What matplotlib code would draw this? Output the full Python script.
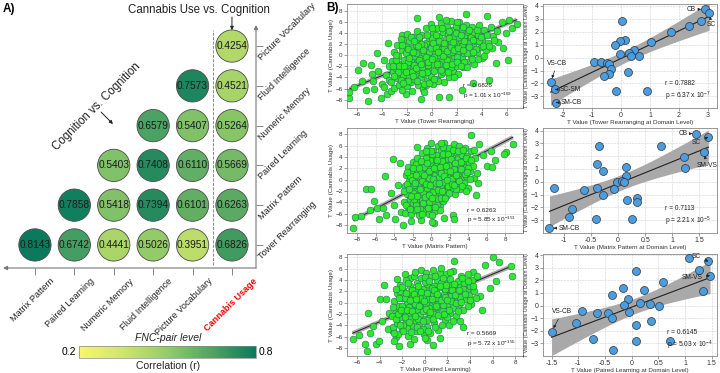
import numpy as np
import matplotlib
matplotlib.use('Agg')
import matplotlib.pyplot as plt
from matplotlib.colors import LinearSegmentedColormap, Normalize
import matplotlib.colorbar as mcolorbar

plt.rcParams['font.family'] = ['Liberation Sans', 'DejaVu Sans']
plt.rcParams['mathtext.fontset'] = 'custom'
plt.rcParams['mathtext.rm'] = 'Liberation Sans'
plt.rcParams['mathtext.it'] = 'Liberation Sans:italic'

# ---------------- Panel A data ----------------
col_labels = ['Matrix Pattern', 'Paired Learning', 'Numeric Memory',
              'Fluid Intelligence', 'Picture Vocabulary', 'Cannabis Usage']
row_labels = ['Tower Rearranging', 'Matrix Pattern', 'Paired Learning',
              'Numeric Memory', 'Fluid Intelligence', 'Picture Vocabulary']  # bottom -> top
nan = np.nan
corr_tower   = [0.8143, 0.6742, 0.4441, 0.5026, 0.3951, 0.6826]
corr_matrix  = [nan, 0.7858, 0.5418, 0.7394, 0.6101, 0.6263]
corr_paired  = [nan, nan, 0.5403, 0.7408, 0.6110, 0.5669]
corr_numeric = [nan, nan, nan, 0.6579, 0.5407, 0.5264]
corr_fluid   = [nan, nan, nan, nan, 0.7573, 0.4521]
corr_picture = [nan, nan, nan, nan, nan, 0.4254]
corr_rows = [corr_tower, corr_matrix, corr_paired, corr_numeric, corr_fluid, corr_picture]
cbar_range = [0.2, 0.8]

# ---------------- Panel B data (FNC-pair level) ----------------
tower_pts = """
-6.6,-7.7 -6.6,-6.6 -6.2,-5.8 -5.9,-2.6 -5.5,-1.4 -5.6,-4.7 -5.3,-6.2 -5.1,-8.3 -4.9,-1.7 -4.8,-3.4
-4.7,-4.7 -4.6,-6.1 -4.4,0.4 -4.3,-2.8 -4.1,-7.7 -4.0,-5.2 -3.8,-5.7 -3.8,-0.9 -3.7,-3.6 -3.6,-7.0
-3.5,2.1 -3.4,-4.4 -3.4,-1.9 -3.3,-6.5 -2.4,3.7 -2.3,2.8 -1.2,6.6 -0.9,-7.8 0.6,-7.6 1.4,-7.6
2.4,-6.3 5.6,5.9 5.9,4.0 6.2,6.3 6.4,4.8 6.8,5.6 5.7,1.2 6.1,-0.8 4.6,-4.4 3.3,-5.0
-2.1,-7.0 4.4,7.0 2.7,7.4 0.6,6.9
-3.3,-4.8 -3.2,-1.0 -3.1,-3.1 -3.0,0.6 -3.0,-5.9 -2.9,-2.3 -2.8,1.9 -2.8,-4.1 -2.7,-0.2 -2.6,-5.3
-2.6,-1.6 -2.5,2.9 -2.5,-3.4 -2.4,0.9 -2.4,-6.2 -2.3,-2.7 -2.2,-0.8 -2.2,-4.6 -2.1,1.6 -2.0,3.8
-2.0,-1.9 -2.0,-5.6 -1.9,0.2 -1.9,-3.8 -1.8,2.5 -1.8,-2.9 -1.7,-0.9 -1.7,-4.9 -1.6,1.2 -1.6,-6.4
-1.5,3.2 -1.5,-2.2 -1.4,-0.1 -1.4,-4.2 -1.3,1.9 -1.3,-3.3 -1.2,4.4 -1.2,-1.4 -1.1,0.7 -1.1,-5.4
-1.0,2.6 -1.0,-2.6 -0.9,-0.5 -0.9,-4.0 -0.8,1.5 -0.8,3.6 -0.7,-1.8 -0.7,-6.0 -0.6,0.3 -0.6,-3.3
-0.5,2.2 -0.5,4.9 -0.4,-1.0 -0.4,-4.7 -0.3,1.0 -0.3,-2.5 -0.2,3.0 -0.2,-0.1 -0.1,-3.8 -0.1,5.6
0.0,1.7 0.0,-1.6 0.1,4.0 0.1,-5.2 0.2,0.6 0.2,-2.9 0.3,2.6 0.3,-0.7 0.4,4.8 0.4,-4.3
0.5,1.4 0.5,-2.0 0.6,3.4 0.6,0.0 0.7,-3.4 0.7,5.7 0.8,2.1 0.8,-1.2 0.9,4.2 0.9,0.8
1.0,-2.6 1.0,-4.9 1.1,2.9 1.1,-0.4 1.2,5.0 1.2,1.6 1.3,-1.7 1.3,3.8 1.4,0.3 1.4,-3.9
1.5,2.4 1.5,6.1 1.6,-0.9 1.6,4.5 1.7,1.1 1.7,-2.8 1.8,3.2 1.8,-0.2 1.9,5.3 1.9,-1.9
2.0,2.0 2.0,0.5 2.1,4.0 2.1,-3.3 2.2,-1.0 2.2,6.0 2.3,2.8 2.3,1.2 2.4,-0.3 2.4,4.7
2.5,-2.2 2.6,3.5 2.6,0.4 2.7,1.8 2.7,5.5 2.8,-1.3 2.9,4.1 2.9,2.6 3.0,0.9 3.1,-0.1
3.1,3.2 3.2,5.0 3.3,1.8 3.4,-1.6 3.4,4.2 3.5,2.6 3.6,0.6 3.7,3.6 3.8,5.4 3.9,1.5
4.0,-0.5 4.0,2.9 4.2,4.5 4.3,0.9 4.4,3.6 4.5,2.1 4.7,5.1 4.8,1.2 4.9,3.4 5.1,-1.4
5.2,4.4 5.3,2.4
-2.9,-0.9 -2.3,-3.6 -1.9,-1.2 -1.6,-3.0 -1.3,0.4 -1.0,-0.9 -0.8,-2.2 -0.6,1.8 -0.4,-3.0 -0.2,0.6
0.0,3.0 0.2,-0.3 0.4,2.0 0.6,-1.5 0.8,0.3 1.0,1.3 1.2,-0.9 1.4,3.0 1.6,0.6 1.8,1.8
2.0,-0.4 2.2,3.3 2.4,1.7 2.6,-1.2 2.8,0.3 3.0,2.2 3.2,-0.6 3.5,1.1 3.8,2.5 4.1,1.6
-2.6,-2.0 -2.1,0.4 -1.4,-1.8 -0.9,2.0 -0.3,-1.8 0.3,3.6 0.9,-3.0 1.5,-2.2 2.5,5.1 3.6,4.6
-1.9,-4.6 -0.5,-5.4 0.5,-4.6 1.8,-3.9
-3.1,-1.9 -2.9,0.1 -2.7,-3.0 -2.5,-4.4 -2.4,1.8 -2.2,-2.0 -2.1,-3.0 -1.9,1.1 -1.8,-0.5 -1.7,3.3
-1.5,-3.7 -1.5,0.6 -1.3,-2.3 -1.2,-4.6 -1.1,1.6 -1.0,3.3 -0.9,-1.5 -0.8,-3.2 -0.7,0.9 -0.6,-5.2
-0.5,-0.3 -0.4,3.6 -0.3,-1.2 -0.2,-5.0 -0.1,1.2 0.0,-0.6 0.1,2.2 0.2,-4.2 0.3,1.3 0.4,-1.6
0.5,0.6 0.6,2.6 0.7,-2.6 0.8,4.9 0.9,-0.2 1.0,2.2 1.1,-1.8 1.2,0.7 1.3,-3.1 1.4,4.4
1.5,1.4 1.6,-1.6 1.7,2.4 1.8,0.9 1.9,3.9 2.0,-1.2 2.1,1.3 2.3,-2.0 2.3,3.7 2.5,0.9
2.6,2.6 2.8,-2.2 3.0,1.4 3.0,4.6 3.3,0.6 3.3,2.7 3.7,-0.6 3.9,3.3 4.2,-0.2 4.6,1.6
5.0,2.7 -2.3,-5.0 -1.4,2.6 0.0,4.8 1.1,6.3 2.0,5.9 -0.6,-6.6 -3.0,-3.8
"""

matrix_pts = """
-8.4,-8.6 -8.2,-6.6 -7.6,-6.4 -7.1,-1.7 -6.5,-1.6 -6.2,-3.8 -6.6,-5.4 -5.9,-5.0 -5.6,-6.9 -5.2,-5.0
-5.0,0.6 -4.1,3.6 -3.4,3.0 -4.9,-6.3 -3.9,-7.0 -3.1,-8.0 0.3,-7.6 -1.5,5.7 -4.4,-2.4 -4.0,-4.4
-3.6,-1.0 -3.3,-5.7 -2.2,-7.3 -1.1,-7.1 1.4,-6.8 5.2,6.2 5.6,4.4 6.0,2.4 6.4,5.0 6.9,3.4
8.1,4.8 5.0,-0.6 4.8,-2.7 2.3,-6.2 2.4,-7.0 7.9,4.5 6.6,2.3 8.8,6.3 4.3,7.8 0.1,-7.4
-2.9,-3.9 -2.8,-1.2 -2.8,-5.8 -2.7,0.8 -2.6,-2.6 -2.5,2.2 -2.5,-4.8 -2.4,-0.3 -2.3,-3.4 -2.2,1.5
-2.2,-6.1 -2.1,-1.8 -2.0,3.1 -2.0,-4.2 -1.9,0.2 -1.8,-2.9 -1.8,-5.3 -1.7,1.9 -1.6,-0.9 -1.6,-3.8
-1.5,3.9 -1.5,-1.9 -1.4,0.7 -1.3,-4.6 -1.3,-6.3 -1.2,2.6 -1.2,-2.6 -1.1,-0.4 -1.0,4.7 -1.0,-3.5
-0.9,1.4 -0.9,-5.4 -0.8,-1.4 -0.7,3.3 -0.7,0.2 -0.6,-2.4 -0.6,-4.4 -0.5,5.6 -0.5,1.0 -0.4,-0.8
-0.4,-3.2 -0.3,2.4 -0.3,-6.0 -0.2,4.2 -0.2,-1.9 -0.1,0.4 -0.1,-4.9 0.0,6.4 0.0,2.9 0.0,-2.8
0.1,-0.4 0.1,1.6 0.2,-3.9 0.2,5.1 0.3,3.7 0.3,-1.2 0.4,0.9 0.4,-5.6 0.5,-2.2 0.5,2.4
0.6,4.4 0.6,-0.1 0.7,-3.4 0.7,6.0 0.8,1.6 0.8,-1.6 0.9,3.3 0.9,-4.5 1.0,0.5 1.0,5.2
1.1,-2.6 1.1,2.3 1.2,-0.7 1.2,4.0 1.3,1.2 1.3,-3.7 1.4,6.4 1.4,2.9 1.5,-1.7 1.5,0.2
1.6,4.8 1.6,-2.9 1.7,1.9 1.7,-0.9 1.8,3.6 1.9,5.6 1.9,0.8 2.0,-2.1 2.0,2.6 2.1,-0.3
2.2,4.3 2.2,1.4 2.3,-1.4 2.4,3.1 2.4,6.2 2.5,0.3 2.6,-2.6 2.6,2.0 2.7,4.9 2.8,-0.7
2.9,3.7 2.9,1.0 3.0,5.9 3.1,-1.6 3.1,2.5 3.2,0.2 3.3,4.3 3.4,1.6 3.5,-0.6 3.5,3.2
3.6,5.6 3.7,2.2 3.8,0.7 3.9,4.2 4.0,-1.4 4.1,3.0 4.2,1.5 4.3,5.1 4.5,2.4 4.6,0.3
4.7,3.9 4.9,1.2
-2.6,-0.8 -2.3,0.6 -2.0,-2.3 -1.7,-4.4 -1.4,-1.2 -1.1,1.1 -0.9,-2.2 -0.8,2.3 -0.5,-1.4 -0.3,0.3
-0.1,3.4 0.2,-2.1 0.4,1.9 0.6,-4.4 0.8,0.5 1.0,-1.0 1.2,3.2 1.4,-0.4 1.6,1.4 1.8,-1.2
2.0,4.6 2.2,0.1 2.4,1.9 2.7,-1.7 2.9,0.1 3.2,3.1 3.6,1.0 4.0,2.0 -1.9,-1.0 -1.2,-5.1
-0.3,-4.0 0.9,-5.4 0.1,4.5 1.3,5.7 -1.6,2.8 -0.6,3.9
-2.9,-2.0 -2.7,-4.4 -2.6,1.4 -2.4,-1.6 -2.3,-5.1 -2.1,0.0 -2.0,2.0 -1.9,-3.4 -1.8,-0.6 -1.6,0.9
-1.5,-2.9 -1.5,-5.2 -1.3,2.0 -1.2,-1.6 -1.1,3.3 -1.0,-0.2 -0.9,-4.2 -0.8,0.8 -0.7,-3.0 -0.6,-0.7
-0.5,2.9 -0.4,-5.0 -0.3,1.6 -0.2,-2.7 -0.1,-0.9 0.0,5.0 0.1,-3.3 0.2,0.2 0.3,2.1 0.4,-4.9
0.5,-0.6 0.6,3.4 0.7,-1.9 0.8,-0.6 0.9,2.3 1.0,-3.2 1.1,1.2 1.2,-2.0 1.3,4.6 1.4,0.6
1.5,-3.3 1.6,2.4 1.7,-0.1 1.8,4.6 1.9,-2.4 2.0,1.5 2.1,3.6 2.2,-0.8 2.3,5.3 2.5,-1.0
2.6,2.9 2.7,0.8 2.9,5.0 3.0,-0.3 3.2,1.9 3.3,-1.1 3.4,5.2 3.7,3.8 3.9,1.3 4.2,0.2
4.3,3.4 4.6,5.3 -2.2,-2.8 -0.6,5.1 1.0,6.4 -1.0,-6.1 0.1,-6.2 3.8,-2.0
"""

paired_pts = """
-6.4,-6.4 -5.8,-5.7 -5.0,-1.8 -5.3,-7.3 -5.1,-8.6 -4.9,-5.3 -4.3,-7.3 -4.1,-6.7 -4.0,0.7 -3.6,3.1
-3.4,0.6 -3.2,-1.8 -2.8,-5.0 -2.6,-6.1 -2.7,-6.7 -1.3,-7.3 -1.3,4.4 -0.3,5.8 0.7,-7.4 -4.6,-4.1
-3.8,-3.3 -3.3,-4.6 -2.3,-7.6 0.2,-6.6 1.3,-6.3 4.9,1.2 6.0,8.1 7.7,4.7 6.3,3.9 4.3,5.4
5.3,6.6 5.8,2.6 5.1,-1.2 3.4,-4.3 6.6,7.2 2.6,7.3 -1.8,5.0 7.6,6.4
-2.9,-2.4 -2.8,-4.3 -2.7,0.3 -2.6,-1.3 -2.5,1.8 -2.5,-3.5 -2.4,-5.5 -2.3,-0.5 -2.2,3.2 -2.1,-2.5
-2.0,0.9 -2.0,-4.6 -1.9,2.3 -1.8,-1.6 -1.7,-3.3 -1.7,4.0 -1.6,0.1 -1.5,-5.8 -1.5,1.5 -1.4,-2.3
-1.3,3.0 -1.2,-0.8 -1.2,-4.0 -1.1,0.9 -1.0,-1.8 -1.0,4.7 -0.9,2.2 -0.9,-3.1 -0.8,-5.0 -0.7,0.2
-0.7,3.5 -0.6,-1.2 -0.5,1.4 -0.5,-3.9 -0.4,-2.2 -0.3,4.3 -0.3,0.6 -0.2,-0.6 -0.2,2.5 -0.1,-5.6
0.0,-2.9 0.0,1.3 0.1,5.3 0.1,-0.2 0.2,3.3 0.2,-4.3 0.3,-1.6 0.4,2.0 0.4,0.6 0.5,4.6
0.5,-2.6 0.6,-0.6 0.7,1.3 0.7,5.8 0.8,-3.6 0.8,3.0 0.9,0.1 1.0,-1.6 1.0,2.2 1.1,4.0
1.1,-0.8 1.2,-4.8 1.3,1.0 1.3,5.2 1.4,-2.4 1.5,2.8 1.5,0.2 1.6,-1.1 1.7,3.7 1.7,1.6
1.8,-3.1 1.9,0.7 1.9,5.0 2.0,-0.4 2.1,2.4 2.2,4.2 2.2,-1.8 2.3,1.2 2.4,3.2 2.5,-0.9
2.5,5.6 2.6,0.4 2.7,2.1 2.8,-2.4 2.9,3.9 2.9,1.0 3.0,-0.3 3.1,2.8 3.2,4.8 3.3,1.7
3.4,-1.2 3.5,3.4 3.6,0.6 3.7,2.3 3.8,5.1 3.9,1.3 4.0,3.0 4.1,-0.2 4.2,4.1 4.4,2.0
4.5,0.9
-2.6,-2.9 -2.3,-1.8 -2.0,-0.6 -1.8,0.8 -1.6,-4.4 -1.4,-0.7 -1.1,2.3 -0.9,-0.3 -0.6,-2.9 -0.4,0.9
-0.2,-1.4 0.0,3.6 0.2,-3.0 0.4,-0.9 0.6,2.6 0.8,-1.9 1.0,0.9 1.2,-0.3 1.4,3.5 1.6,-0.4
1.8,2.4 2.0,-2.6 2.3,0.3 2.6,3.3 2.8,-0.1 3.1,1.1 3.4,2.4 3.8,-0.6 -1.3,-2.9 -0.8,1.3
-0.2,-4.6 0.9,-4.3 0.5,-5.4 2.1,-4.0 -1.9,-3.9 -2.2,2.0
-2.8,-0.8 -2.7,-5.3 -2.6,2.5 -2.4,-2.0 -2.3,0.9 -2.2,-3.9 -2.1,-1.2 -2.0,2.7 -1.9,-5.0 -1.8,-2.6
-1.7,1.7 -1.6,-1.3 -1.5,3.4 -1.4,-3.4 -1.3,0.4 -1.2,-5.2 -1.1,-1.4 -1.0,1.6 -0.9,-2.4 -0.8,0.6
-0.7,-4.2 -0.6,2.9 -0.5,-0.6 -0.4,-4.9 -0.3,1.9 -0.2,-3.3 -0.1,0.3 0.0,4.6 0.1,-1.1 0.2,1.8
0.3,-5.0 0.4,3.9 0.5,-1.6 0.6,0.6 0.7,-2.9 0.8,2.3 0.9,4.7 1.0,-0.6 1.1,1.6 1.2,-2.1
1.3,3.0 1.4,0.5 1.5,-3.9 1.6,4.4 1.7,-2.0 1.8,1.1 1.9,3.1 2.0,0.4 2.1,-1.2 2.2,5.4
2.4,2.3 2.5,-3.2 2.7,1.3 2.9,-1.4 3.0,2.2 3.2,0.1 3.3,4.3 3.6,1.5 3.8,3.8 4.0,0.4
4.3,2.9 4.6,4.7 -1.0,-6.4 0.0,-6.3 1.4,6.1 -0.9,5.4 -2.5,4.2 3.1,-3.3
"""

# fitted regression lines (slope, intercept)
fnc_fits = [(0.93, 0.05), (0.85, 0.0), (0.84, 0.0)]
fnc_stats = [('0.6826', '1.01', '-169'), ('0.6263', '5.85', '-151'), ('0.5669', '5.72', '-155')]
fnc_names = ['Tower Rearranging', 'Matrix Pattern', 'Paired Learning']

# ---------------- Panel B data (domain level) ----------------
dom1_x = [2.91, 3.05, 2.75, 2.35, 1.74, 1.02, 0.05, 0.13, -0.04, -0.20, 0.45, 0.28, 0.35, -0.02,
          0.63, -0.94, -0.71, -0.48, -0.42, -0.35, -0.43, -0.58, 0.24, -0.16, 0.91, -2.44, -2.28, -2.24]
dom1_y = [3.75, 3.49, 2.83, 2.42, 1.96, 1.20, 2.80, 1.40, 1.28, 0.95, 0.59, 0.34, 0.13, 0.26,
          0.13, -0.33, -0.33, -0.43, -0.50, -0.89, -1.29, -1.45, -1.09, -2.62, -2.62, -1.90, -2.46, -3.48]
dom2_x = [1.45, 1.67, 1.59, 1.22, 1.23, 0.80, -0.36, -0.39, -0.28, 0.14, 0.15, -0.02, 0.08, 0.11,
          -0.39, -0.08, -1.19, -0.64, -0.28, 0.17, 0.35, 0.35, -0.85, -0.91, -0.40, 0.26, -1.27]
dom2_y = [3.76, 3.50, 2.36, 1.90, 1.08, 2.81, 2.81, 1.37, 0.82, 1.19, 0.47, 0.02, 0.10, -0.03,
          -0.50, -0.60, -0.48, -0.62, -1.04, -1.44, -1.28, -1.57, -2.13, -2.74, -2.87, -2.90, -3.62]
dom3_x = [1.08, 1.44, 1.27, 1.47, 1.33, 0.09, 0.59, -0.16, 0.24, -0.37, -0.07, -0.14, 0.16, 0.34,
          0.52, -0.92, -0.64, -0.44, -0.04, -0.36, -1.05, 0.09, 0.36, -1.50, -0.72, 0.08, 0.72, -0.35]
dom3_y = [3.76, 3.50, 2.82, 2.37, 1.11, 2.77, 1.90, 1.35, 1.19, 0.80, 0.48, 0.04, 0.19, 0.12,
          -0.02, -0.46, -0.59, -0.59, -0.51, -0.98, -1.35, -1.52, -1.20, -2.09, -2.69, -2.82, -2.82, -3.55]
dom_stats = [('0.7882', '6.37', '-7'), ('0.7113', '2.21', '-5'), ('0.6145', '5.03', '-4')]
dom_labels = [
    [('CB', 0), ('SC', 1), ('VS-CB', 25), ('SC-SM', 26), ('SM-CB', 27)],
    [('CB', 0), ('SC', 1), ('SM-VS', 2), ('SM-CB', 26)],
    [('SC', 1), ('SM-VS', 3), ('VS-CB', 23)],
]


def parse(s):
    return np.array([[float(v) for v in p.split(',')] for p in s.split()])


fig = plt.figure(figsize=(7.2, 3.73), dpi=100)
W, H = 720.0, 373.0

# ================= Panel A =================
cmap = LinearSegmentedColormap.from_list(
    'yg', [(0.0, '#f7f76a'), (0.25, '#cfe56b'), (0.5, '#94cc68'), (0.75, '#4fa463'), (1.0, '#0b7a5c')])
norm = Normalize(cbar_range[0], cbar_range[1])

axA = fig.add_axes([3 / W, 1 - 268 / H, 253 / W, 243 / H])
axA.set_xlim(-0.81, 5.61)
axA.set_ylim(-0.58, 5.53)
for s in axA.spines.values():
    s.set_visible(False)

bx, by, bv = [], [], []
for r, row in enumerate(corr_rows):
    for c, v in enumerate(row):
        if not np.isnan(v):
            bx.append(c); by.append(r); bv.append(v)
axA.scatter(bx, by, s=540, c=bv, cmap=cmap, norm=norm, edgecolors='#4a4a4a',
            linewidths=0.6, zorder=3, clip_on=False)
for x, y, v in zip(bx, by, bv):
    axA.text(x, y, f'{v:.4f}', ha='center', va='center', fontsize=7.3, color='#1a1a1a', zorder=4)

axA.set_xticks(range(len(col_labels)))
axA.set_yticks(range(len(row_labels)))
axA.set_xticklabels([])
axA.set_yticklabels([])
axA.yaxis.tick_right()
axA.tick_params(axis='both', length=5, width=0.7, color='#888888')

for c, lab in enumerate(col_labels):
    bold = (lab == 'Cannabis Usage')
    axA.text(c + (0.52 if bold else 0.38), -0.80, lab, rotation=45, ha='right', va='top',
             rotation_mode='anchor', fontsize=6.6, color='red' if bold else '#222222',
             fontweight='bold' if bold else 'normal', clip_on=False)
for r, lab in enumerate(row_labels):
    axA.text(5.79, r - 0.40, lab, rotation=45, ha='left', va='bottom',
             rotation_mode='anchor', fontsize=6.6, color='#222222', clip_on=False)

# axis arrows
axA.annotate('', xy=(0, 0), xycoords='axes fraction', xytext=(1, 0), textcoords='axes fraction',
             arrowprops=dict(arrowstyle='-|>', color='#777777', lw=0.8, mutation_scale=6,
                             shrinkA=0, shrinkB=0))
axA.annotate('', xy=(1, 1), xycoords='axes fraction', xytext=(1, 0), textcoords='axes fraction',
             arrowprops=dict(arrowstyle='-|>', color='#777777', lw=0.8, mutation_scale=6,
                             shrinkA=0, shrinkB=0))
# dashed separator
axA.plot([4.52, 4.52], [-0.5, 5.4], ls='--', lw=0.6, color='#777777', zorder=1, clip_on=False)

axA.text(4.16, 5.90, 'Cannabis Use vs. Cognition', ha='center', va='center', fontsize=8.3,
         color='#222222', clip_on=False)
axA.annotate('', xy=(5.0, 5.40), xytext=(5.0, 5.73),
             arrowprops=dict(arrowstyle='-|>', color='#222222', lw=0.7, mutation_scale=5,
                             shrinkA=0, shrinkB=0), annotation_clip=False)
axA.text(1.57, 3.47, 'Cognition vs. Cognition', rotation=45, ha='center', va='center',
         fontsize=8.3, color='#222222')
axA.annotate('', xy=(1.98, 3.04), xytext=(1.68, 3.34),
             arrowprops=dict(arrowstyle='-|>', color='#222222', lw=0.7, mutation_scale=5,
                             shrinkA=0, shrinkB=0), annotation_clip=False)

fig.text(3 / W, 1 - 9 / H, 'A)', fontsize=8.5, fontweight='bold', ha='left', va='center')
fig.text(326 / W, 1 - 8 / H, 'B)', fontsize=8.5, fontweight='bold', ha='left', va='center')

fig.text(168 / W, 1 - 338 / H, 'FNC-pair level', fontsize=7.5, style='italic',
         ha='center', va='center', color='#222222')
cax = fig.add_axes([79 / W, 1 - 358 / H, 177 / W, 12 / H])
cb = mcolorbar.ColorbarBase(cax, cmap=cmap, norm=norm, orientation='horizontal')
cb.set_ticks([])
cb.outline.set_linewidth(0.5)
cb.outline.set_edgecolor('#888888')
fig.text(76 / W, 1 - 352 / H, f'{cbar_range[0]:.1f}', fontsize=7.5, ha='right', va='center')
fig.text(259 / W, 1 - 352 / H, f'{cbar_range[1]:.1f}', fontsize=7.5, ha='left', va='center')
fig.text(168 / W, 1 - 366 / H, 'Correlation (r)', fontsize=7.5, ha='center', va='center',
         color='#222222')

# ================= Panel B =================
row_px = [(4, 108), (128, 233), (254, 356)]
left_box = (347, 523)
right_box = (543, 717)
left_lims = [((-6.8, 7.3), (-9.5, 9.2)), ((-9.1, 9.9), (-9.4, 9.1)), ((-6.9, 8.7), (-9.4, 8.6))]
left_xticks = [np.arange(-6, 7, 2), np.arange(-8, 9, 2), np.arange(-6, 9, 2)]
right_lims = [((-2.7, 3.32), (-3.9, 4.15)), ((-1.39, 1.83), (-4.0, 4.2)), ((-1.66, 1.60), (-4.0, 4.08))]
right_xticks = [np.arange(-2, 4, 1), np.arange(-1, 1.6, 0.5), np.arange(-1.5, 1.6, 0.5)]
left_text_x = [0.66, 0.68, 0.68]
right_text_x = [0.70, 0.70, 0.71]
label_text_pos = [
    [(2.41, 3.72), (3.13, 2.55), (-2.2, -0.43), (-1.75, -2.49), (-1.72, -3.48)],
    [(1.2, 3.76), (1.45, 3.05), (1.64, 1.27), (-0.9, -3.62)],
    [(1.22, 3.85), (1.13, 2.2), (-1.3, -0.5)],
]

clouds = [parse(tower_pts), parse(matrix_pts), parse(paired_pts)]
doms = [(dom1_x, dom1_y), (dom2_x, dom2_y), (dom3_x, dom3_y)]


def style(ax, fs):
    for s in ax.spines.values():
        s.set_color('#888888')
        s.set_linewidth(0.6)
    ax.grid(True, ls='--', lw=0.4, color='#cfcfcf')
    ax.set_axisbelow(True)
    ax.tick_params(labelsize=fs, length=2, width=0.5, color='#777777', pad=1.2,
                   labelcolor='#333333')


for i in range(3):
    top, bot = row_px[i]
    # ---- left FNC scatter
    ax = fig.add_axes([left_box[0] / W, 1 - bot / H, (left_box[1] - left_box[0]) / W, (bot - top) / H])
    pts = clouds[i]
    slope, icpt = fnc_fits[i]
    xs = np.array([pts[:, 0].min(), pts[:, 0].max()])
    ax.plot(xs, slope * xs + icpt, color='#aaaaaa', lw=3.0, zorder=2, solid_capstyle='butt')
    ax.plot(xs, slope * xs + icpt, color='#222222', lw=0.7, zorder=2)
    ax.scatter(pts[:, 0], pts[:, 1], s=24, c='#2ee82e', edgecolors='#2d6b62', linewidths=0.4, zorder=3)
    ax.set_xlim(*left_lims[i][0]); ax.set_ylim(*left_lims[i][1])
    ax.set_xticks(left_xticks[i]); ax.set_yticks(np.arange(-8, 9, 2))
    style(ax, 4.5)
    ax.set_xlabel(f'T Value ({fnc_names[i]})', fontsize=4.5, labelpad=0.8, color='#333333')
    ax.set_ylabel('T Value (Cannabis Usage)', fontsize=4.5, labelpad=1, color='#333333')
    rr, pm, pe = fnc_stats[i]
    ax.text(left_text_x[i], 0.155, f'r = {rr}\np = {pm} x 10$^{{{pe}}}$', transform=ax.transAxes,
            ha='left', va='center', fontsize=4.6, color='#222222', zorder=5, linespacing=1.3)

    # ---- right domain scatter
    ax2 = fig.add_axes([right_box[0] / W, 1 - bot / H, (right_box[1] - right_box[0]) / W, (bot - top) / H])
    dx = np.array(doms[i][0]); dy = np.array(doms[i][1])
    b1, b0 = np.polyfit(dx, dy, 1)
    xx = np.linspace(dx.min(), dx.max(), 100)
    n = len(dx)
    resid = dy - (b1 * dx + b0)
    se = np.sqrt(np.sum(resid ** 2) / (n - 2))
    sxx = np.sum((dx - dx.mean()) ** 2)
    ci = 2.06 * se * np.sqrt(1.0 / n + (xx - dx.mean()) ** 2 / sxx)
    yy = b1 * xx + b0
    ax2.fill_between(xx, yy - ci, yy + ci, color='#a9a9a9', lw=0, zorder=2)
    ax2.plot(xx, yy, color='#222222', lw=0.8, zorder=3)
    ax2.scatter(dx, dy, s=33, c='#4a9de0', edgecolors='#333333', linewidths=0.5, zorder=4)
    ax2.set_xlim(*right_lims[i][0]); ax2.set_ylim(*right_lims[i][1])
    ax2.set_xticks(right_xticks[i]); ax2.set_yticks(np.arange(-3, 5, 1))
    ax2.set_xticklabels([f'{t:g}' for t in right_xticks[i]])
    style(ax2, 5)
    ax2.set_xlabel(f'T Value ({fnc_names[i]} at Domain Level)', fontsize=4.5, labelpad=0.6, color='#333333')
    ax2.set_ylabel('T Value (Cannabis Usage at Domain Level)', fontsize=3.9, labelpad=1, color='#333333')
    rr, pm, pe = dom_stats[i]
    ax2.text(right_text_x[i], 0.155, f'r = {rr}\np = {pm} x 10$^{{{pe}}}$', transform=ax2.transAxes,
             ha='left', va='center', fontsize=4.8, color='#222222', zorder=5, linespacing=1.3)
    for (lab, k), (tx, ty) in zip(dom_labels[i], label_text_pos[i]):
        ax2.annotate(lab, xy=(dx[k], dy[k]), xytext=(tx, ty), fontsize=4.8, ha='center', va='center',
                     color='#222222', zorder=6,
                     arrowprops=dict(arrowstyle='-|>', lw=0.5, color='#222222', mutation_scale=4,
                                     shrinkA=1, shrinkB=3))

fig.savefig('out.png', dpi=100, facecolor='white')
